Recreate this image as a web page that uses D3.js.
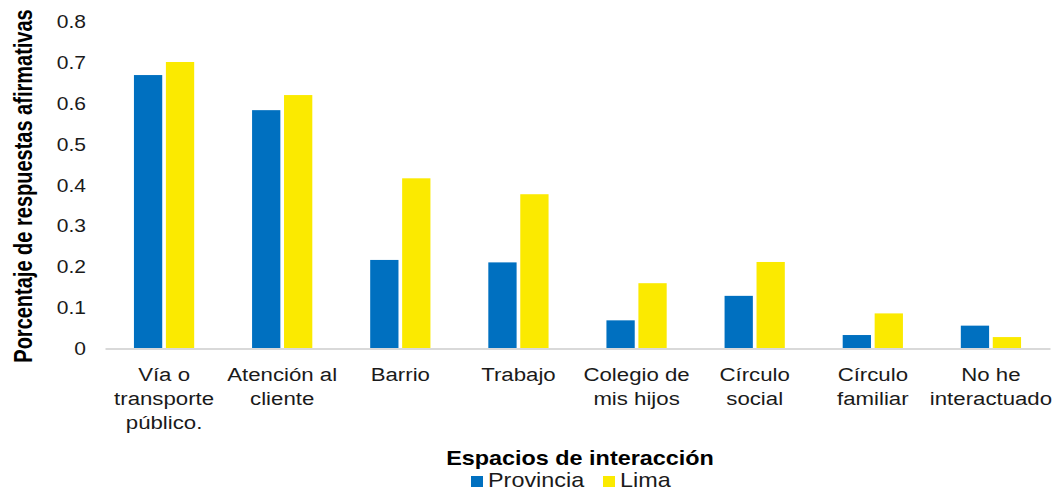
<!DOCTYPE html>
<html>
<head>
<meta charset="utf-8">
<script src="https://cdn.jsdelivr.net/npm/d3@7"></script>
<style>
  body { margin: 0; background: #fff; }
  svg { font-family: "Liberation Sans", Arial, sans-serif; }
</style>
</head>
<body>
<script>
// categories as lines (wrapped like the original)
var categories = [
  ["Vía o", "transporte", "público."],
  ["Atención al", "cliente"],
  ["Barrio"],
  ["Trabajo"],
  ["Colegio de", "mis hijos"],
  ["Círculo", "social"],
  ["Círculo", "familiar"],
  ["No he", "interactuado"]
];
var provincia = [0.670, 0.584, 0.217, 0.211, 0.069, 0.129, 0.033, 0.056];
var lima      = [0.702, 0.621, 0.417, 0.378, 0.160, 0.212, 0.086, 0.028];
var seriesNames = ["Provincia", "Lima"];
var yTicks = [0, 0.1, 0.2, 0.3, 0.4, 0.5, 0.6, 0.7, 0.8];

var width = 1058, height = 490;
var margin = {left: 105, right: 8, top: 22, bottom: 141};
var colors = ["#0070C0", "#FBEA00"];
var sx = 1.17; // horizontal text stretch of the original picture

var svg = d3.select("body").append("svg")
  .attr("width", width).attr("height", height);

var keys = categories.map(function(d, i) { return i; });

var x = d3.scaleBand()
  .domain(keys)
  .range([margin.left, width - margin.right])
  .paddingInner(0.49).paddingOuter(0.245);

var xInner = d3.scaleBand()
  .domain([0, 1])
  .range([0, x.bandwidth()])
  .paddingInner(0.115);

var y = d3.scaleLinear()
  .domain([0, 0.8])
  .range([height - margin.bottom - 0.5, margin.top]);

var data = keys.map(function(i) { return [provincia[i], lima[i]]; });

var groups = svg.append("g").selectAll("g")
  .data(data).enter().append("g")
  .attr("transform", function(d, i) { return "translate(" + x(i) + ",0)"; });

groups.selectAll("rect")
  .data(function(d) { return d; })
  .enter().append("rect")
  .attr("x", function(d, j) { return xInner(j); })
  .attr("width", xInner.bandwidth())
  .attr("y", function(d) { return y(d); })
  .attr("height", function(d) { return y(0) - y(d); })
  .attr("fill", function(d, j) { return colors[j]; });

// y axis (labels only)
var yAxis = d3.axisLeft(y).tickValues(yTicks).tickSize(0).tickPadding(0)
  .tickFormat(function(d) { return d === 0 ? "0" : d3.format(".1f")(d); });
var gy = svg.append("g").attr("transform", "translate(86,0)").call(yAxis);
gy.select(".domain").remove();
gy.selectAll("text").attr("font-size", 18).attr("fill", "#1a1a1a")
  .attr("font-family", "Liberation Sans, Arial, sans-serif")
  .attr("x", 0).attr("transform", "scale(" + sx + ",1)");

// x axis baseline
var gx = svg.append("g").attr("transform", "translate(0," + y(0) + ")")
  .call(d3.axisBottom(x).tickSize(0).tickFormat(""));
gx.select(".domain").attr("stroke", "#d9d9d9").attr("stroke-width", 2);

// category labels
svg.append("g").selectAll("g")
  .data(categories).enter().append("g")
  .attr("transform", function(d, i) {
    return "translate(" + (x(i) + x.bandwidth() / 2) + ",381) scale(" + sx + ",1)";
  })
  .append("text")
  .attr("text-anchor", "middle")
  .attr("font-size", 19).attr("fill", "#1a1a1a")
  .each(function(lines) {
    var t = d3.select(this);
    lines.forEach(function(l, k) {
      t.append("tspan").attr("x", 0).attr("dy", k === 0 ? 0 : 24).text(l);
    });
  });

// axis titles
svg.append("text")
  .attr("transform", "translate(580,465) scale(" + sx + ",1)")
  .attr("text-anchor", "middle")
  .attr("font-size", 20).attr("font-weight", "bold").attr("fill", "#000")
  .text("Espacios de interacción");

svg.append("text")
  .attr("transform", "translate(32,186) rotate(-90) scale(1,1.3)")
  .attr("text-anchor", "middle")
  .attr("font-size", 20).attr("font-weight", "bold").attr("fill", "#000")
  .text("Porcentaje de respuestas afirmativas");

// legend
var legendX = [471, 603];
var legend = svg.append("g").selectAll("g")
  .data(seriesNames).enter().append("g")
  .attr("transform", function(d, i) { return "translate(" + legendX[i] + ",476)"; });
legend.append("rect").attr("width", 12).attr("height", 11)
  .attr("fill", function(d, i) { return colors[i]; });
legend.append("text")
  .attr("transform", "translate(17,11) scale(" + sx + ",1)")
  .attr("font-size", 20).attr("fill", "#1a1a1a")
  .text(function(d) { return d; });
</script>
</body>
</html>
